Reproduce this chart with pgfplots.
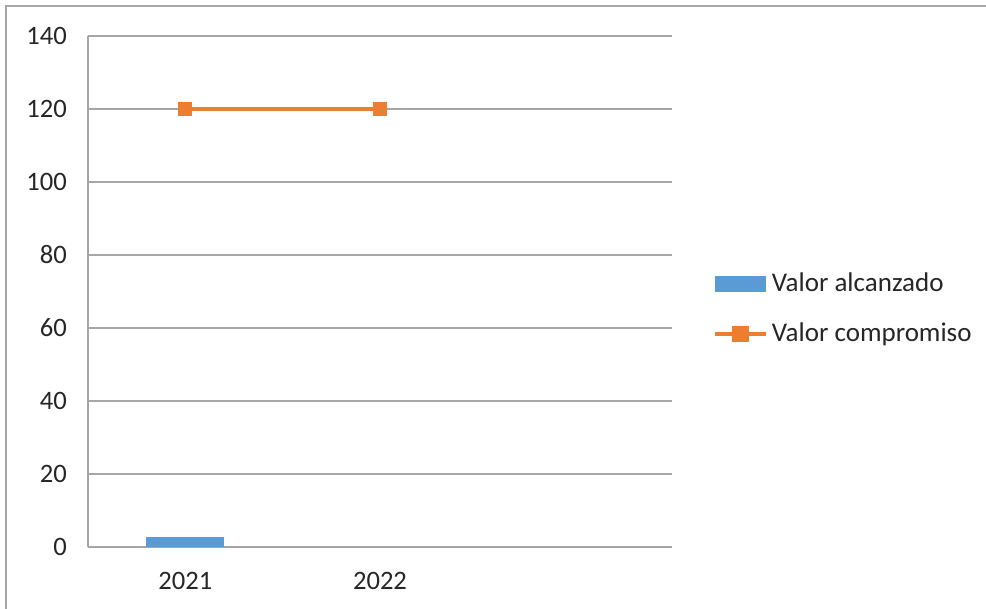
\documentclass[border=0pt]{standalone}
\usepackage{fontspec}
\setmainfont{Carlito}
\usepackage{pgfplots}
\pgfplotsset{compat=1.18}
\definecolor{cblue}{HTML}{5B9BD5}
\definecolor{corange}{HTML}{ED7D31}
\definecolor{cgrid}{HTML}{A6A6A6}
\begin{document}
\begin{tikzpicture}
\path[use as bounding box] (0pt,0pt) rectangle (493pt,304.5pt);
\draw[cgrid,line width=0.9pt] (3pt,0pt) -- (3pt,301.5pt) -- (493pt,301.5pt);
\begin{axis}[
  at={(44pt,31pt)}, anchor=south west,
  scale only axis, width=292pt, height=255.5pt,
  xmin=-0.5, xmax=2.5, ymin=0, ymax=140,
  xtick={0,1}, xticklabels={2021,2022},
  ytick={0,20,...,140},
  axis x line*=bottom, axis y line*=left,
  axis line style={cgrid, line width=0.7pt, -},
  major tick length=0pt,
  ymajorgrids, grid style={cgrid, line width=0.7pt},
  tick label style={font=\fontsize{13.3}{15}\selectfont, text=black!85},
  yticklabel style={xshift=-7pt},
  xticklabel style={yshift=-9pt},
  /pgf/number format/assume math mode=true,
  legend style={draw=none, at={(1.07,0.466)}, anchor=west,
    font=\fontsize{13.5}{15}\selectfont, text=black!85,
    row sep=10pt, inner sep=0pt, cells={anchor=west}},
  clip=false,
]
\addplot[ybar, bar width=39pt, fill=cblue, draw=none,
  legend image code/.code={\fill[cblue] (0pt,-4pt) rectangle (25.5pt,4pt);}]
  coordinates {(0,2.8)};
\addlegendentry{Valor alcanzado}
\addplot[corange, line width=1.8pt, mark=square*, mark size=3.2pt,
  mark options={fill=corange, draw=corange, line width=0pt},
  legend image code/.code={\draw[corange, line width=1.8pt] (0pt,0pt) -- (25.5pt,0pt);
     \fill[corange] (9.5pt,-3.2pt) rectangle (16pt,3.2pt);}]
  coordinates {(0,120) (1,120)};
\addlegendentry{Valor compromiso}
\end{axis}
\end{tikzpicture}
\end{document}
